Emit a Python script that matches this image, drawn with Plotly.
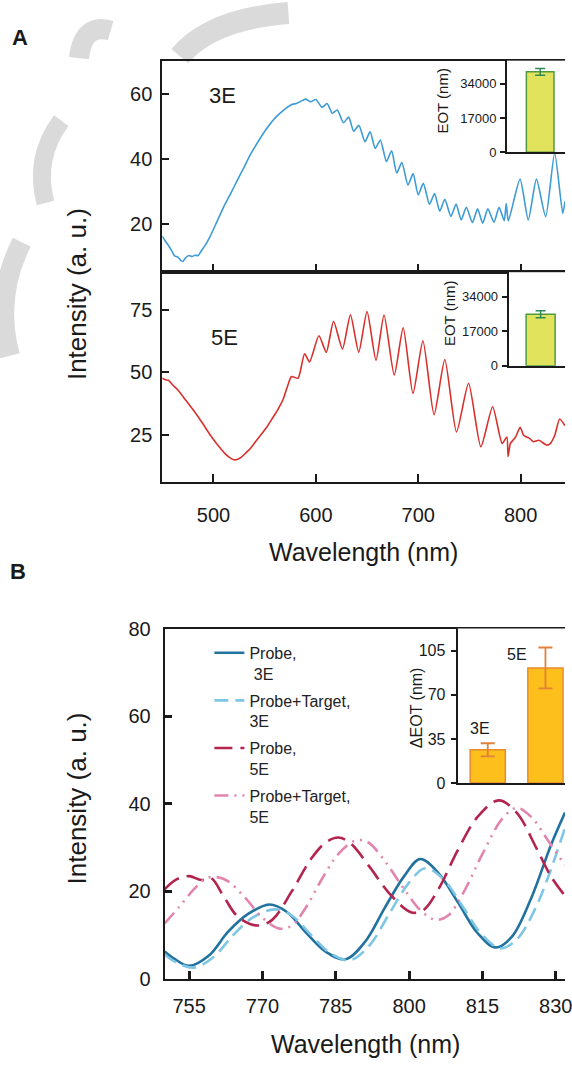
import plotly.graph_objects as go

W, H = 572, 1067
FONT = "Liberation Sans, Arial, sans-serif"

# ---------------- Panel A : spectra (wavelength nm, intensity a.u.) ----------------
wl_3e = [450, 453, 456, 459, 462, 465, 468, 470, 473, 476, 479, 482, 485, 488, 492, 496,
         503, 510, 517, 523, 530, 536, 544, 552, 560, 568, 576, 581, 585,
         590, 595, 600, 606, 611, 616, 621, 627, 632, 637, 642, 648, 653, 658, 663, 669,
         674, 679, 684, 690, 695, 700, 705, 711, 716, 721, 726, 732, 737, 742, 747, 753,
         758, 763, 768, 774, 779, 784, 786, 788, 799.5, 807.5, 815.5, 824.5, 833.3, 841.2, 843.4]
int_3e = [16.3, 14.8, 13.5, 12.0, 10.3, 10.0, 8.9, 8.6, 9.8, 10.4, 10.1, 10.5, 10.4, 11.8, 13.6, 15.8,
          20.5, 25.3, 29.5, 33.3, 37.5, 41.3, 45.5, 49.3, 52.5, 54.8, 56.6, 57.0, 57.6,
          58.3, 57.5, 58.2, 55.8, 57.0, 54.0, 55.0, 51.1, 52.8, 48.5, 50.3, 45.3, 48.3, 43.2, 45.8, 39.2,
          42.5, 35.7, 38.9, 32.0, 35.5, 29.0, 32.5, 26.1, 29.4, 24.0, 27.6, 22.4, 26.2, 21.3, 25.2, 20.5,
          24.7, 20.3, 24.7, 20.6, 25.2, 21.1, 26.3, 21.0, 33.8, 21.3, 33.8, 22.3, 41.8, 23.3, 27.0]

wl_5e = [450, 453, 456, 460, 465, 473, 481, 489, 497, 502, 507, 512, 517, 520, 523, 527, 531,
         536, 541, 546, 552, 558, 563, 568, 572, 576.2, 582.6, 589, 593.8, 603, 610.2, 617.3,
         626, 633.8, 641.9, 650, 658.8, 666.6, 676.6, 685.3, 694.9, 704.6, 715.5, 726, 737.4,
         749.2, 761.2, 772.7, 782, 786.6, 787.8, 790, 795, 799.6, 803, 806, 809, 812.4, 818,
         825.3, 829, 833.4, 838.2, 843.3]
int_5e = [47.6, 47.0, 46.8, 45.0, 43.0, 38.8, 34.5, 29.8, 24.8, 22.0, 19.5, 17.2, 15.6, 15.0, 15.1, 16.0, 17.5,
          19.5, 22.2, 24.8, 28.0, 31.9, 35.2, 39.1, 44.0, 48.3, 47.6, 57.4, 54.1, 64.6, 58.0, 70.4,
          59.3, 73.0, 58.0, 74.3, 54.8, 72.9, 48.9, 67.8, 41.5, 62.6, 33.0, 55.1, 26.1,
          45.6, 20.2, 36.2, 21.5, 24.1, 16.3, 21.5, 24.0, 28.0, 24.8, 24.1, 23.5, 22.2, 22.8,
          20.9, 21.5, 24.8, 31.3, 28.7]

# Panel A insets: EOT (nm)
eot_groups = ["Probe", "Probe+Target"]
eot_3e = [39900, 39926]
eot_3e_err = [1700, 1700]
eot_5e = [25350, 25441]
eot_5e_err = [1750, 1750]
eot_ticks = [0, 17000, 34000]

# ---------------- Panel B : zoomed spectra ----------------
wl_p3 = [750, 752, 755, 759, 763, 767, 771.5, 775, 779, 783, 787, 791, 795, 799, 802.3, 806,
         810, 814, 817.7, 821, 825, 829, 831.9]
int_p3 = [6.3, 4.6, 3.0, 5.3, 10.8, 14.8, 17.0, 15.3, 10.5, 6.2, 4.5, 8.5, 16.2, 23.5, 27.4, 24.2,
          17.5, 10.5, 7.2, 9.6, 18.5, 30.5, 38.0]

wl_pt3 = [750, 752, 756, 760, 764, 768, 772.5, 776, 780, 784, 788, 792, 796, 800, 803.3, 807,
          811, 815, 818.7, 822, 826, 831.9]
int_pt3 = [5.6, 4.0, 2.6, 5.0, 10.0, 14.0, 15.9, 14.5, 10.0, 5.8, 4.3, 7.8, 15.0, 22.0, 25.3, 22.8,
           16.5, 10.0, 7.0, 9.0, 16.5, 34.5]

wl_p5 = [750, 752.5, 755, 757.5, 759.5, 762, 765, 769, 772, 776, 780, 783, 785.5, 788, 792, 796,
         800.5, 803, 806, 810, 814, 818.3, 822, 826, 829, 831.9]
int_p5 = [20.5, 22.8, 23.5, 22.6, 23.0, 19.0, 14.2, 12.2, 13.5, 20.0, 27.5, 31.2, 32.3, 31.0, 25.5, 19.5,
          15.2, 15.8, 20.5, 29.5, 37.0, 40.8, 38.0, 30.0, 23.5, 19.0]

wl_pt5 = [750, 753, 756, 758.5, 761, 763, 766.5, 770, 773.5, 776, 779, 782, 785.5, 789, 791.5, 795,
          799, 802.5, 805.5, 808, 811, 815, 819, 822, 825, 828.5, 831.9]
int_pt5 = [12.7, 16.5, 20.5, 23.0, 23.2, 22.3, 18.5, 14.0, 11.5, 12.2, 16.5, 22.5, 28.5, 31.6, 31.3, 27.0,
           20.5, 15.5, 13.5, 14.5, 19.5, 28.5, 36.5, 39.1, 37.0, 31.5, 26.0]

# Panel B inset: delta EOT (nm)
deot_cats = ["3E", "5E"]
deot_vals = [26.4, 91.4]
deot_err = [5.2, 16.2]


def xp(p):
    return p / W


def yp(p):
    return 1 - p / H


fig = go.Figure()

fig.add_trace(go.Scatter(x=wl_3e, y=int_3e, mode="lines", xaxis="x", yaxis="y",
                         line=dict(color="#3d9bd6", width=1.6, shape="spline", smoothing=0.6),
                         showlegend=False))
fig.add_trace(go.Scatter(x=wl_5e, y=int_5e, mode="lines", xaxis="x2", yaxis="y2",
                         line=dict(color="#d8312c", width=1.6, shape="spline", smoothing=0.6),
                         showlegend=False))

fig.add_trace(go.Scatter(x=wl_p3, y=int_p3, mode="lines", xaxis="x3", yaxis="y3",
                         name="Probe,<br>\u00a03E", legendgroup="a",
                         line=dict(color="#22729f", width=2.6, shape="spline", smoothing=1.0)))
fig.add_trace(go.Scatter(x=wl_pt3, y=int_pt3, mode="lines", xaxis="x3", yaxis="y3",
                         name="Probe+Target,<br>3E", legendgroup="b",
                         line=dict(color="#7fc6e4", width=2.6, shape="spline", smoothing=1.0,
                                   dash="14px,7px")))
fig.add_trace(go.Scatter(x=wl_p5, y=int_p5, mode="lines", xaxis="x3", yaxis="y3",
                         name="Probe,<br>5E", legendgroup="c",
                         line=dict(color="#b3244f", width=2.6, shape="spline", smoothing=1.0,
                                   dash="18px,8px")))
fig.add_trace(go.Scatter(x=wl_pt5, y=int_pt5, mode="lines", xaxis="x3", yaxis="y3",
                         name="Probe+Target,<br>5E", legendgroup="d",
                         line=dict(color="#e285ae", width=2.6, shape="spline", smoothing=1.0,
                                   dash="14px,6px,2px,6px,2px,6px")))

fig.add_trace(go.Bar(x=eot_groups, y=eot_3e, xaxis="x4", yaxis="y4", width=0.5,
                     marker=dict(color="#e1e35c", line=dict(color="#4f9a3e", width=1.5)),
                     error_y=dict(type="data", array=eot_3e_err, color="#2f8a5a", thickness=1.5, width=5),
                     showlegend=False))
fig.add_trace(go.Bar(x=eot_groups, y=eot_5e, xaxis="x5", yaxis="y5", width=0.5,
                     marker=dict(color="#e1e35c", line=dict(color="#4f9a3e", width=1.5)),
                     error_y=dict(type="data", array=eot_5e_err, color="#2f8a5a", thickness=1.5, width=5),
                     showlegend=False))
fig.add_trace(go.Bar(x=deot_cats, y=deot_vals, xaxis="x6", yaxis="y6", width=0.61,
                     marker=dict(color="#fdbf1c", line=dict(color="#e98a2c", width=1.5)),
                     error_y=dict(type="data", array=deot_err, color="#e2813a", thickness=1.8, width=7),
                     showlegend=False))

ax_line = dict(showline=True, linecolor="#1a1a1a", linewidth=2, showgrid=False, zeroline=False)
tickfont = dict(family=FONT, size=20, color="#1a1a1a")
insetfont = dict(family=FONT, size=13, color="#1a1a1a")

xA = [xp(164.3), 1]
xB = [xp(166.7), 1]

fig.update_layout(
    width=W, height=H,
    margin=dict(l=0, r=0, t=0, b=0),
    paper_bgcolor="white", plot_bgcolor="white",
    font=dict(family=FONT, color="#1a1a1a"),
    xaxis=dict(domain=xA, anchor="y", range=[450, 843.4], tickvals=[500, 600, 700, 800],
               ticks="inside", ticklen=8, tickwidth=2, tickcolor="#1a1a1a",
               showticklabels=False, mirror=True, **ax_line),
    yaxis=dict(domain=[yp(266.7), yp(50.7)], anchor="x", range=[5.3, 70.1], tickvals=[20, 40, 60],
               ticks="inside", ticklen=7, tickwidth=2, tickcolor="#1a1a1a", tickfont=tickfont,
               ticklabelstandoff=4, **ax_line),
    xaxis2=dict(domain=xA, anchor="y2", range=[450, 843.4], tickvals=[500, 600, 700, 800],
                ticks="inside", ticklen=8, tickwidth=2, tickcolor="#1a1a1a", tickfont=tickfont,
                ticklabelstandoff=14, mirror=True, ticklabeloverflow="allow", **ax_line),
    yaxis2=dict(domain=[yp(481), yp(266.7)], anchor="x2", range=[6.1, 90.0], tickvals=[25, 50, 75],
                ticks="inside", ticklen=7, tickwidth=2, tickcolor="#1a1a1a", tickfont=tickfont,
                ticklabelstandoff=4, **ax_line),
    xaxis3=dict(domain=xB, anchor="y3", range=[750, 831.9], tickvals=[755, 770, 785, 800, 815, 830],
                ticks="inside", ticklen=8, tickwidth=2.5, tickcolor="#1a1a1a", tickfont=tickfont,
                ticklabelstandoff=8, mirror=True, ticklabeloverflow="allow", **ax_line),
    yaxis3=dict(domain=[yp(988.8), yp(630.5)], anchor="x3", range=[-0.1, 80.05],
                tickvals=[0, 20, 40, 60, 80],
                ticks="inside", ticklen=7, tickwidth=2.5, tickcolor="#1a1a1a", tickfont=tickfont,
                ticklabelstandoff=8, **ax_line),
    xaxis4=dict(domain=[xp(513.3), 1], anchor="y4", range=[-0.6, 0.45], type="category",
                showticklabels=False, ticks="", **ax_line),
    yaxis4=dict(domain=[yp(144.3), yp(50.7)], anchor="x4", range=[0, 45460],
                tickvals=eot_ticks, ticktext=[str(t) for t in eot_ticks], ticks="outside",
                ticklen=5, tickwidth=1.5,
                tickcolor="#1a1a1a", tickfont=insetfont, ticklabelstandoff=1, **ax_line),
    xaxis5=dict(domain=[xp(515), 1], anchor="y5", range=[-0.55, 0.42], type="category",
                showticklabels=False, ticks="", **ax_line),
    yaxis5=dict(domain=[yp(362.3), yp(266.7)], anchor="x5", range=[0, 46040],
                tickvals=eot_ticks, ticktext=[str(t) for t in eot_ticks], ticks="outside",
                ticklen=5, tickwidth=1.5,
                tickcolor="#1a1a1a", tickfont=insetfont, ticklabelstandoff=1, **ax_line),
    xaxis6=dict(domain=[xp(463.3), 1], anchor="y6", range=[-0.522, 1.339], type="category",
                showticklabels=False, ticks="", **ax_line),
    yaxis6=dict(domain=[yp(788.3), yp(630.5)], anchor="x6", range=[0, 122.7],
                tickvals=[0, 35, 70, 105], ticks="outside", ticklen=5, tickwidth=1.5,
                tickcolor="#1a1a1a", tickfont=dict(family=FONT, size=16, color="#1a1a1a"),
                ticklabelstandoff=2, **ax_line),
    legend=dict(x=xp(212), y=yp(638), xanchor="left", yanchor="top", bgcolor="rgba(0,0,0,0)",
                font=dict(family=FONT, size=16, color="#222222"), valign="top",
                itemwidth=30, tracegroupgap=3),
)


# faint grey watermark strokes of the source page (decoration, drawn beneath the plots)
def wm_path(pts):
    s = "M {:.4f},{:.4f}".format(xp(pts[0][0]), yp(pts[0][1]))
    for i in range(1, len(pts) - 1, 2):
        s += " Q {:.4f},{:.4f} {:.4f},{:.4f}".format(xp(pts[i][0]), yp(pts[i][1]),
                                                     xp(pts[i + 1][0]), yp(pts[i + 1][1]))
    return s


wm_strokes = [
    ([(112, 20), (84, 12), (80, 48)], 20),
    ([(62, 112), (34, 150), (46, 196)], 18),
    ([(22, 236), (-6, 292), (10, 352)], 20),
    ([(182, 46), (214, 8), (292, 2)], 22),
]
fig.update_layout(shapes=[
    dict(type="path", xref="paper", yref="paper", path=wm_path(p), layer="below",
         line=dict(color="#dadada", width=w))
    for p, w in wm_strokes
])

ann = [
    dict(text="<b>A</b>", x=xp(20), y=yp(27), size=22),
    dict(text="<b>B</b>", x=xp(18), y=yp(572), size=22),
    dict(text="3E", x=xp(225), y=yp(86), size=22),
    dict(text="5E", x=xp(227.5), y=yp(333.3), size=22),
    dict(text="Intensity (a. u.)", x=xp(78), y=yp(289), size=26, angle=-90),
    dict(text="Intensity (a. u.)", x=xp(78), y=yp(804), size=26, angle=-90),
    dict(text="Wavelength (nm)", x=xp(367.5), y=yp(552), size=25),
    dict(text="Wavelength (nm)", x=xp(370), y=yp(1055), size=25),
    dict(text="EOT (nm)", x=xp(448), y=yp(92), size=15, angle=-90),
    dict(text="EOT (nm)", x=xp(455), y=yp(308), size=15, angle=-90),
    dict(text="\u0394EOT (nm)", x=xp(422), y=yp(711), size=16, angle=-90),
    dict(text="3E", x=xp(485.8), y=yp(733), size=16),
    dict(text="5E", x=xp(523.7), y=yp(656.7), size=16),
]
fig.update_layout(annotations=[
    dict(text=a["text"], x=a["x"], y=a["y"], xref="paper", yref="paper", showarrow=False,
         xanchor="center", yanchor="middle", textangle=a.get("angle", 0),
         font=dict(family=FONT, size=a["size"], color="#1a1a1a"))
    for a in ann
])

post = ("var de=document.documentElement,b=document.body;"
        "de.style.margin='0';de.style.padding='0';de.style.overflow='hidden';"
        "b.style.margin='0';b.style.padding='0';b.style.overflow='hidden';")
fig.write_html("out.html", config={"displayModeBar": False}, post_script=post)
